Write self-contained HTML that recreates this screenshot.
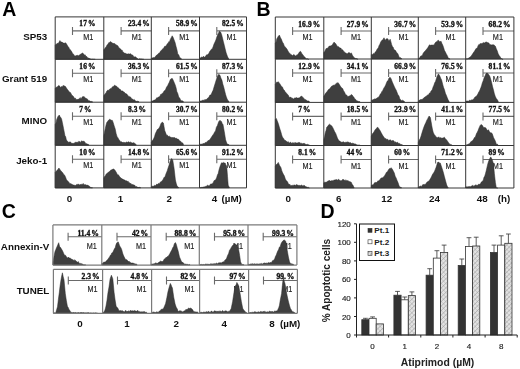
<!DOCTYPE html>
<html><head><meta charset="utf-8"><style>
html,body{margin:0;padding:0;background:#fff;}
body{width:520px;height:369px;overflow:hidden;}
svg{display:block;filter:blur(0.3px);}
.gl{stroke:#363636;stroke-width:1;}
.glc{stroke:#7a7a7a;stroke-width:1.2;}
.mk{stroke:#6a6a6a;stroke-width:1.1;fill:none;}
.pct{font-family:"Liberation Serif",serif;font-weight:bold;font-size:7.4px;letter-spacing:0.15px;fill:#111;stroke:#111;stroke-width:0.35px;}
.pctc{font-size:7.6px;letter-spacing:0px;}
.m1{font-family:"Liberation Sans",sans-serif;font-size:8.4px;fill:#222;stroke:#222;stroke-width:0.15px;}
.big{font-family:"Liberation Sans",sans-serif;font-weight:bold;font-size:19.5px;fill:#000;}
.lab{font-family:"Liberation Sans",sans-serif;font-weight:bold;font-size:9.8px;fill:#111;}
.tk{font-family:"Liberation Sans",sans-serif;font-size:8px;fill:#222;stroke:#222;stroke-width:0.15px;}
.dl{font-family:"Liberation Sans",sans-serif;font-weight:bold;font-size:10.4px;fill:#222;}
.yl{font-family:"Liberation Sans",sans-serif;font-weight:bold;font-size:10.05px;fill:#222;}
.lg{font-family:"Liberation Sans",sans-serif;font-weight:bold;font-size:8.1px;fill:#222;}
.eb{stroke:#333;stroke-width:0.8;fill:none;}
.ax{stroke:#222;stroke-width:1;fill:none;}
</style></head><body>
<svg width="520" height="369" viewBox="0 0 520 369">
<defs><pattern id="hatch" patternUnits="userSpaceOnUse" width="3.2" height="3.2" patternTransform="rotate(45)">
<rect width="3.2" height="3.2" fill="#e2e2e2"/><line x1="0" y1="0" x2="0" y2="3.2" stroke="#8a8a8a" stroke-width="0.8"/><line x1="0" y1="0" x2="3.2" y2="0" stroke="#a0a0a0" stroke-width="0.6"/></pattern></defs>
<text x="79.3" y="26.4" class="pct" text-anchor="start">17<tspan dx="0.9">%</tspan></text>
<path d="M72.5,30.9 H103.8 M72.5,26.9 V34.9" class="mk"/>
<text x="88.2" y="39.9" class="m1" text-anchor="middle" textLength="10.1" lengthAdjust="spacingAndGlyphs">M1</text>
<path d="M55.2,59.3 L55.2,44.9 L55.9,44.4 L56.6,44.1 L57.3,43.3 L58,43.6 L59,42.3 L59.9,40.6 L60.6,41.4 L61.3,42 L62,42.1 L62.7,42.6 L63.4,43.1 L64.1,43.1 L64.8,43.3 L65.5,42.7 L66.4,43.8 L67.3,45.3 L68,46.5 L68.7,47.2 L69.4,48.7 L70.1,49.7 L71,50.5 L72,52.3 L72.9,54 L73.6,54.2 L74.3,55.5 L75,56.2 L75.7,55.8 L76.5,55.6 L77.2,55 L78,56 L78.7,55.6 L79.5,55.1 L80.4,54.2 L81.3,53.9 L82.2,52.9 L82.9,53.2 L83.7,54.1 L84.4,55.2 L85.1,54.7 L86,56.5 L86.9,56.6 L87.8,58.2 L88.7,58.1 L89.7,58.6 L90.6,58.9 L91.4,59.2 L92.1,59.2 L92.9,59.1 L93.7,59.3 L94.4,59.3 L95.2,59.2 L95.2,59.3 Z" fill="#3f3f3f" stroke="#2a2a2a" stroke-width="0.5" stroke-linejoin="round"/>
<text x="127.9" y="26.4" class="pct" text-anchor="start">23.4<tspan dx="0.9">%</tspan></text>
<path d="M121.1,30.9 H151.3 M121.1,26.9 V34.9" class="mk"/>
<text x="136.8" y="39.9" class="m1" text-anchor="middle" textLength="10.1" lengthAdjust="spacingAndGlyphs">M1</text>
<path d="M103.8,59.3 L103.8,49.5 L104.6,48.9 L105.5,47.4 L106.3,46.5 L107.2,44.7 L107.9,44.5 L108.6,42.8 L109.3,42.7 L110,41.7 L110.7,41.8 L111.5,42.3 L112.2,43.3 L113,42.9 L113.7,43.6 L114.6,43.6 L115.6,44.4 L116.5,45 L117.2,45.4 L117.9,45.8 L118.6,47.3 L119.3,48.1 L120,48.5 L120.7,49.1 L121.4,50.2 L122.1,50.1 L122.8,51.7 L123.5,52.2 L124.2,53.3 L124.9,53.1 L125.8,53.5 L126.8,54 L127.7,54 L128.4,53.8 L129.2,54 L129.9,53.9 L130.7,53.7 L131.4,54.7 L132.1,54.9 L132.9,55.2 L133.6,56.5 L134.4,56.9 L135.1,56.7 L135.8,57 L136.5,57.7 L137.2,58.3 L137.9,58.7 L138.6,59.3 L139.4,58.8 L140.1,58.8 L140.8,59.1 L141.6,58.9 L142.3,59.1 L143.1,59.3 L143.8,59.2 L143.8,59.3 Z" fill="#3f3f3f" stroke="#2a2a2a" stroke-width="0.5" stroke-linejoin="round"/>
<text x="175.9" y="26.4" class="pct" text-anchor="start">58.9<tspan dx="0.9">%</tspan></text>
<path d="M168.6,30.9 H199.5 M168.6,26.9 V34.9" class="mk"/>
<text x="184.3" y="39.9" class="m1" text-anchor="middle" textLength="10.1" lengthAdjust="spacingAndGlyphs">M1</text>
<path d="M151.3,59.3 L151.3,58.3 L152.1,58 L152.9,57.8 L153.7,57.6 L154.5,57.4 L155.2,57 L156,55.8 L156.7,55.1 L157.5,54.6 L158.2,53.9 L158.9,52.9 L159.7,52.9 L160.4,51.3 L161.2,50.6 L161.9,49.7 L162.6,49.1 L163.3,48.4 L164,47.5 L164.7,46.3 L165.7,46.3 L166.6,45 L167.3,43.7 L168,43.4 L168.7,41.7 L169.4,41.9 L170.3,39.4 L171.2,37.7 L172.2,35.8 L173.2,37.5 L174.1,39.9 L175.1,42.6 L176,46.3 L176.9,49.5 L177.8,53.9 L178.8,54.9 L179.7,57.6 L180.6,57.9 L181.5,58.9 L181.5,59.3 Z" fill="#3f3f3f" stroke="#2a2a2a" stroke-width="0.5" stroke-linejoin="round"/>
<text x="221.9" y="26.4" class="pct" text-anchor="start">82.5<tspan dx="0.9">%</tspan></text>
<path d="M216.8,30.9 H246.5 M216.8,26.9 V34.9" class="mk"/>
<text x="231.5" y="39.9" class="m1" text-anchor="middle" textLength="10.1" lengthAdjust="spacingAndGlyphs">M1</text>
<path d="M199.5,59.3 L199.5,58.3 L200.2,58 L200.9,57.5 L201.7,57 L202.4,57.3 L203.1,56.6 L203.8,56.5 L204.5,57.3 L205.3,56.6 L206,55.4 L206.8,54.8 L207.5,54.7 L208.2,54.1 L208.9,53.6 L209.6,51.6 L210.3,51.1 L211.2,49.4 L212.2,48.9 L213.1,46.8 L214,44.1 L215,42.1 L215.9,39.9 L216.8,37 L217.8,34.4 L218.6,33 L219.3,31.3 L220.6,32.1 L221.6,34.5 L222.5,38 L223.4,41.7 L224.3,45.3 L225.2,49 L226.2,53 L227.5,56.6 L228.2,58.1 L229,58.9 L229,59.3 Z" fill="#3f3f3f" stroke="#2a2a2a" stroke-width="0.5" stroke-linejoin="round"/>
<text x="79.3" y="68.8" class="pct" text-anchor="start">16<tspan dx="0.9">%</tspan></text>
<path d="M72.5,73.3 H103.8 M72.5,69.3 V77.3" class="mk"/>
<text x="88.2" y="82.3" class="m1" text-anchor="middle" textLength="10.1" lengthAdjust="spacingAndGlyphs">M1</text>
<path d="M55.2,102.2 L55.2,88.2 L56.2,87.3 L57.1,87.3 L58,86 L58.9,85.5 L59.7,86.1 L60.4,87.5 L61.4,86.5 L62.3,86.9 L63,85.5 L63.8,85.7 L64.5,86 L65.5,86.5 L66.4,88 L67.3,89.3 L68.3,90.5 L69,91.4 L69.7,92.3 L70.4,92.5 L71.1,93.7 L72,95.5 L73,95.9 L73.9,97.2 L74.6,98.6 L75.3,97.9 L76,99.4 L76.7,99.5 L77.4,99.6 L78.1,99.1 L78.8,99.2 L79.5,98.5 L80.2,97.6 L80.9,98.7 L81.6,98.3 L82.3,96.8 L83.2,96.7 L84.1,96.5 L85.1,98.1 L86,98.2 L86.7,98.7 L87.4,98.9 L88.1,100.3 L88.8,100.7 L89.5,100.7 L90.3,101.3 L91,101.6 L91.8,101.4 L92.5,101.8 L92.5,102.2 Z" fill="#3f3f3f" stroke="#2a2a2a" stroke-width="0.5" stroke-linejoin="round"/>
<text x="127.9" y="68.8" class="pct" text-anchor="start">36.3<tspan dx="0.9">%</tspan></text>
<path d="M121.1,73.3 H151.3 M121.1,69.3 V77.3" class="mk"/>
<text x="136.8" y="82.3" class="m1" text-anchor="middle" textLength="10.1" lengthAdjust="spacingAndGlyphs">M1</text>
<path d="M103.8,102.2 L103.8,95.7 L104.6,94.4 L105.4,93.5 L106.2,92.4 L106.9,90.9 L107.6,90.3 L108.3,90.1 L109,90.7 L109.7,89 L110.4,88.7 L111.1,88.4 L111.8,87.7 L112.5,86.7 L113.2,87 L113.9,85.8 L114.6,85.3 L115.5,85.8 L116.5,86.3 L117.2,86.8 L117.9,87.8 L118.6,87.9 L119.3,89.3 L120,89.1 L120.7,90 L121.4,91.1 L122.1,91.1 L122.8,90.9 L123.5,92.1 L124.2,92 L124.9,93.3 L125.8,93.6 L126.8,94.1 L127.7,95.2 L128.4,96.1 L129.1,96.9 L129.8,96.4 L130.5,97 L131.2,98.2 L131.9,98.7 L132.6,99 L133.3,100.1 L134.2,99.4 L135.2,100.5 L136.1,101.5 L136.8,101.3 L137.5,101.2 L138.2,101.3 L138.9,101.8 L138.9,102.2 Z" fill="#3f3f3f" stroke="#2a2a2a" stroke-width="0.5" stroke-linejoin="round"/>
<text x="175.9" y="68.8" class="pct" text-anchor="start">61.5<tspan dx="0.9">%</tspan></text>
<path d="M168.6,73.3 H199.5 M168.6,69.3 V77.3" class="mk"/>
<text x="184.3" y="82.3" class="m1" text-anchor="middle" textLength="10.1" lengthAdjust="spacingAndGlyphs">M1</text>
<path d="M151.3,102.2 L151.3,101.3 L152.1,100.8 L152.9,101.2 L153.8,100 L154.6,100 L155.4,99.7 L156.1,98.8 L156.9,97.6 L157.6,97.9 L158.4,97.1 L159.1,96.7 L159.9,96.5 L160.6,94.5 L161.4,94.2 L162.1,93.4 L162.9,93.3 L163.6,91.8 L164.3,90.8 L165,90.5 L165.7,89.2 L166.6,87 L167.6,85.8 L168.5,83.7 L169.4,82.1 L170.3,79.5 L171.6,78.5 L172.4,78.6 L173.1,80.1 L174.1,82.3 L175,84.4 L176,87.4 L176.9,91.7 L177.8,93.6 L178.7,97 L179.7,97.9 L180.6,100.1 L181.3,100.8 L182,100.7 L182.7,100.9 L183.4,101.5 L183.4,102.2 Z" fill="#3f3f3f" stroke="#2a2a2a" stroke-width="0.5" stroke-linejoin="round"/>
<text x="221.9" y="68.8" class="pct" text-anchor="start">87.3<tspan dx="0.9">%</tspan></text>
<path d="M216.8,73.3 H246.5 M216.8,69.3 V77.3" class="mk"/>
<text x="231.5" y="82.3" class="m1" text-anchor="middle" textLength="10.1" lengthAdjust="spacingAndGlyphs">M1</text>
<path d="M199.5,102.2 L199.5,101.3 L200.2,101 L201,101 L201.7,100.8 L202.5,100.3 L203.2,100.1 L204,100.7 L204.7,99.6 L205.5,99.7 L206.2,99.6 L207,98.7 L207.7,98.3 L208.5,97.4 L209.2,96.6 L209.9,95.1 L210.6,95.1 L211.3,94.2 L212.2,92.1 L213.2,90.1 L214.1,86.8 L215,83.9 L215.9,81 L216.7,78.4 L217.4,76.5 L218.7,74.3 L220,75.3 L220.9,78.1 L221.9,80.1 L222.8,84.1 L223.8,87.3 L224.7,90.9 L225.6,94.6 L226.3,96.7 L227.1,98.9 L228.1,100.7 L229,101.5 L229,102.2 Z" fill="#3f3f3f" stroke="#2a2a2a" stroke-width="0.5" stroke-linejoin="round"/>
<text x="79.3" y="111.7" class="pct" text-anchor="start">7<tspan dx="0.9">%</tspan></text>
<path d="M72.5,116.2 H103.8 M72.5,112.2 V120.2" class="mk"/>
<text x="88.2" y="125.2" class="m1" text-anchor="middle" textLength="10.1" lengthAdjust="spacingAndGlyphs">M1</text>
<path d="M55.2,145.3 L55.2,124.6 L56,122.9 L56.7,119.4 L58,116.4 L59.3,115 L60.1,116.8 L60.8,117.6 L61.6,119.1 L62.3,122.2 L63.6,128.7 L64.9,135.4 L65.7,136.8 L66.4,140.1 L67.3,141.1 L68.3,142.2 L69,142.3 L69.7,141.9 L70.4,142 L71.1,142.6 L72,143.6 L73,143.2 L73.9,143.5 L74.6,142.7 L75.3,142 L76,143.1 L76.7,142.1 L77.4,142.2 L78.1,142.4 L78.8,141.2 L79.5,141.5 L80.2,142.4 L80.9,141.5 L81.6,140.9 L82.3,141.3 L83.2,141.3 L84.1,141.2 L85.1,142.5 L86,143.7 L86.7,143.7 L87.4,144.1 L88.1,144.2 L88.8,144.7 L88.8,145.3 Z" fill="#3f3f3f" stroke="#2a2a2a" stroke-width="0.5" stroke-linejoin="round"/>
<text x="127.9" y="111.7" class="pct" text-anchor="start">8.3<tspan dx="0.9">%</tspan></text>
<path d="M121.1,116.2 H151.3 M121.1,112.2 V120.2" class="mk"/>
<text x="136.8" y="125.2" class="m1" text-anchor="middle" textLength="10.1" lengthAdjust="spacingAndGlyphs">M1</text>
<path d="M103.8,145.3 L103.8,135.8 L104.5,132.2 L105.3,128.6 L106,125.2 L106.8,122.4 L107.8,121.2 L108.7,120 L109.6,119.3 L110.5,119.7 L111.5,120.3 L112.4,120.4 L113.3,122.9 L114.2,126 L115.2,128.9 L116.1,133.4 L117,136.4 L118,137.9 L118.7,139.3 L119.5,140.2 L120.2,141.3 L120.9,142 L121.7,141.7 L122.4,142.6 L123.2,142.1 L123.9,143 L124.7,142.2 L125.4,143 L126.2,141.9 L126.9,142.2 L127.7,142.3 L128.4,141.7 L129.1,142.1 L129.8,142.5 L130.5,142 L131.2,142.6 L131.9,142.8 L132.6,143.1 L133.3,142.8 L134.2,142.8 L135.2,143.9 L136.1,144.4 L136.1,145.3 Z" fill="#3f3f3f" stroke="#2a2a2a" stroke-width="0.5" stroke-linejoin="round"/>
<text x="175.9" y="111.7" class="pct" text-anchor="start">30.7<tspan dx="0.9">%</tspan></text>
<path d="M168.6,116.2 H199.5 M168.6,112.2 V120.2" class="mk"/>
<text x="184.3" y="125.2" class="m1" text-anchor="middle" textLength="10.1" lengthAdjust="spacingAndGlyphs">M1</text>
<path d="M151.3,145.3 L151.3,142.3 L152,141.2 L152.8,140.1 L153.5,139.1 L154.5,136.8 L155.4,133.5 L156.4,131.6 L157.3,129.6 L158.2,129.1 L159.1,128 L160.1,126 L161,123.5 L162.3,122.1 L163.4,123 L164.7,130.4 L165.7,133.1 L166.6,135.3 L167.3,135.2 L168,135.7 L168.7,136.5 L169.4,136.2 L170.3,137 L171.3,137.4 L172.2,137.5 L173.2,137.6 L174.1,137.8 L174.8,137.5 L175.5,138.6 L176.2,137.9 L176.9,139.1 L177.8,139.1 L178.7,139.4 L179.7,141.1 L180.6,141.2 L181.3,142.4 L182,142.6 L182.7,143 L183.4,144.2 L183.4,145.3 Z" fill="#3f3f3f" stroke="#2a2a2a" stroke-width="0.5" stroke-linejoin="round"/>
<text x="221.9" y="111.7" class="pct" text-anchor="start">80.2<tspan dx="0.9">%</tspan></text>
<path d="M216.8,116.2 H246.5 M216.8,112.2 V120.2" class="mk"/>
<text x="231.5" y="125.2" class="m1" text-anchor="middle" textLength="10.1" lengthAdjust="spacingAndGlyphs">M1</text>
<path d="M199.5,145.3 L199.5,144.7 L200.2,144.4 L200.9,144 L201.7,144.2 L202.4,144.3 L203.1,143.2 L203.8,143.8 L204.5,143.3 L205.3,142.5 L206,142.7 L206.8,141.8 L207.5,141.2 L208.2,140.5 L208.9,140.5 L209.6,139.8 L210.3,138.9 L211.2,137.5 L212.2,136 L213.1,134.7 L213.9,133.5 L214.7,131.9 L215.5,130.9 L216.4,127.2 L217.4,125.5 L218.7,121.7 L220,120.3 L220.8,121.2 L221.5,121.6 L222.2,123.5 L223,124.6 L224.3,131.7 L225.6,139.8 L226.3,141.8 L227.1,144.1 L228.1,144.3 L229,144.7 L229,145.3 Z" fill="#3f3f3f" stroke="#2a2a2a" stroke-width="0.5" stroke-linejoin="round"/>
<text x="79.3" y="154.8" class="pct" text-anchor="start">10<tspan dx="0.9">%</tspan></text>
<path d="M72.5,159.3 H103.8 M72.5,155.3 V163.3" class="mk"/>
<text x="88.2" y="168.3" class="m1" text-anchor="middle" textLength="10.1" lengthAdjust="spacingAndGlyphs">M1</text>
<path d="M55.2,187.9 L55.2,172.4 L56.2,171.3 L57.1,170.2 L58,169.5 L58.9,168 L59.9,169.4 L60.8,170.8 L61.8,171.7 L62.7,172.7 L63.6,174.2 L64.5,175.1 L65.5,177.1 L66.4,179.4 L67.3,180.8 L68.3,181.5 L69,182.4 L69.7,183.4 L70.4,183.6 L71.1,183.9 L72,184.2 L73,185.1 L73.9,185 L74.6,185.3 L75.3,185.5 L76,185 L76.7,184.4 L77.4,184.4 L78.1,184.2 L78.8,184.3 L79.5,185.1 L80.2,184.3 L80.9,184.8 L81.6,184.3 L82.3,184.6 L83.2,183.4 L84.1,184.7 L84.8,184.8 L85.5,184.6 L86.2,185.3 L86.9,184.9 L87.6,185.1 L88.3,185.8 L89,185.7 L89.7,186.6 L90.6,187.4 L91.6,187.7 L92.5,187.8 L92.5,187.9 Z" fill="#3f3f3f" stroke="#2a2a2a" stroke-width="0.5" stroke-linejoin="round"/>
<text x="127.9" y="154.8" class="pct" text-anchor="start">14.8<tspan dx="0.9">%</tspan></text>
<path d="M121.1,159.3 H151.3 M121.1,155.3 V163.3" class="mk"/>
<text x="136.8" y="168.3" class="m1" text-anchor="middle" textLength="10.1" lengthAdjust="spacingAndGlyphs">M1</text>
<path d="M103.8,187.9 L103.8,177.9 L104.6,176.4 L105.4,175.7 L106.2,174.1 L106.9,173.4 L107.6,173.1 L108.3,172.2 L109,172 L109.7,171.2 L110.4,170.5 L111.1,169.7 L111.8,170.1 L112.8,169.1 L113.7,168.9 L115,170.3 L115.8,171.6 L116.5,172.7 L117.4,174.7 L118.4,174.8 L119.3,176.2 L120.3,177.5 L121.2,178.1 L122.1,179 L123,179.1 L123.9,179.9 L124.8,179.9 L125.8,181 L126.7,180.8 L127.4,181.4 L128.1,181.2 L128.8,182.4 L129.5,182.7 L130.2,183.7 L130.9,183.3 L131.6,184.5 L132.3,184.6 L133,184.6 L133.7,184.9 L134.4,185 L135.1,185.8 L135.8,186.7 L136.5,186.5 L137.2,187.1 L137.9,187.2 L138.8,187.6 L139.8,187.3 L140.7,187.8 L140.7,187.9 Z" fill="#3f3f3f" stroke="#2a2a2a" stroke-width="0.5" stroke-linejoin="round"/>
<text x="175.9" y="154.8" class="pct" text-anchor="start">65.6<tspan dx="0.9">%</tspan></text>
<path d="M168.6,159.3 H199.5 M168.6,155.3 V163.3" class="mk"/>
<text x="184.3" y="168.3" class="m1" text-anchor="middle" textLength="10.1" lengthAdjust="spacingAndGlyphs">M1</text>
<path d="M151.3,187.9 L151.3,186.7 L152.1,186.6 L152.9,185.8 L153.8,186.6 L154.6,185.2 L155.4,185.8 L156.1,184.8 L156.9,184.1 L157.6,184.5 L158.4,183.4 L159.1,183.7 L159.8,182.9 L160.5,181.9 L161.2,181.6 L161.9,181.2 L162.6,180.1 L163.3,179.2 L164,177.3 L164.7,177.5 L165.5,175.2 L166.4,172.7 L167.2,170.9 L168.1,168 L169,165.3 L170.3,160.9 L171.6,158.5 L172.8,160.3 L174.1,168.4 L175.4,180 L176.2,183.3 L176.9,185.6 L177.8,186.8 L178.7,187.5 L178.7,187.9 Z" fill="#3f3f3f" stroke="#2a2a2a" stroke-width="0.5" stroke-linejoin="round"/>
<text x="221.9" y="154.8" class="pct" text-anchor="start">91.2<tspan dx="0.9">%</tspan></text>
<path d="M216.8,159.3 H246.5 M216.8,155.3 V163.3" class="mk"/>
<text x="231.5" y="168.3" class="m1" text-anchor="middle" textLength="10.1" lengthAdjust="spacingAndGlyphs">M1</text>
<path d="M199.5,187.9 L199.5,187.5 L200.2,187.7 L201,187.5 L201.7,187.3 L202.5,187.3 L203.2,187 L204,187 L204.7,186.8 L205.5,186.4 L206.3,186.3 L207.1,185.4 L207.8,185.2 L208.6,185.8 L209.4,186 L210.1,184.4 L210.9,184 L211.6,183.9 L212.4,183.4 L213.1,183 L214,180.7 L215,180.2 L215.9,179.3 L216.7,177.4 L217.4,175.1 L218.2,173.5 L219.1,169.5 L220,166.6 L220.8,164.4 L221.5,162.8 L222.4,163.1 L223.4,162.4 L224.3,162.9 L225.2,163.1 L225.9,165 L226.7,166.1 L227.5,176.3 L228.2,185.2 L229.4,187.5 L229.4,187.9 Z" fill="#3f3f3f" stroke="#2a2a2a" stroke-width="0.5" stroke-linejoin="round"/>
<line x1="55.2" y1="16.9" x2="246.5" y2="16.9" class="gl"/>
<line x1="55.2" y1="59.3" x2="246.5" y2="59.3" class="gl"/>
<line x1="55.2" y1="102.2" x2="246.5" y2="102.2" class="gl"/>
<line x1="55.2" y1="145.3" x2="246.5" y2="145.3" class="gl"/>
<line x1="55.2" y1="187.9" x2="246.5" y2="187.9" class="gl"/>
<line x1="55.2" y1="16.9" x2="55.2" y2="187.9" class="gl"/>
<line x1="103.8" y1="16.9" x2="103.8" y2="187.9" class="gl"/>
<line x1="151.3" y1="16.9" x2="151.3" y2="187.9" class="gl"/>
<line x1="199.5" y1="16.9" x2="199.5" y2="187.9" class="gl"/>
<line x1="246.5" y1="16.9" x2="246.5" y2="187.9" class="gl"/>
<text x="298.2" y="26.5" class="pct" text-anchor="start">16.9<tspan dx="0.9">%</tspan></text>
<path d="M292.6,31 H323.8 M292.6,27 V35" class="mk"/>
<text x="307.5" y="40" class="m1" text-anchor="middle" textLength="10.1" lengthAdjust="spacingAndGlyphs">M1</text>
<path d="M275.3,59 L275.3,43.1 L276.1,41.9 L276.8,38.8 L277.6,37.4 L278.3,36.2 L279.4,35.1 L280.5,37.8 L281.4,39.2 L282.4,42.1 L283.4,43.4 L284.3,45.9 L285.2,46.9 L286.1,48 L287.1,49.3 L288,51.1 L288.9,52.4 L289.9,53.4 L290.8,54.6 L291.8,54.9 L292.7,55.8 L293.6,54.5 L294.5,55.1 L295.4,55.9 L296.4,55.2 L297.3,54.9 L298.2,53.9 L299.2,52.3 L300.5,51.3 L301.2,52.3 L302,54 L302.9,54.7 L303.8,56.3 L304.8,57 L305.7,58.3 L306.4,58.9 L307.1,58.8 L307.8,59 L308.5,59.5 L308.5,59 Z" fill="#3f3f3f" stroke="#2a2a2a" stroke-width="0.5" stroke-linejoin="round"/>
<text x="346.7" y="26.5" class="pct" text-anchor="start">27.9<tspan dx="0.9">%</tspan></text>
<path d="M341.1,31 H371.3 M341.1,27 V35" class="mk"/>
<text x="356" y="40" class="m1" text-anchor="middle" textLength="10.1" lengthAdjust="spacingAndGlyphs">M1</text>
<path d="M323.8,59 L323.8,52.4 L324.6,51.7 L325.4,50 L326.2,48.4 L326.9,48.6 L327.6,47.9 L328.3,47.3 L329,46.3 L329.7,46.1 L330.4,45.9 L331.1,45.9 L331.8,45 L332.6,44.4 L333.4,42.9 L334.2,42.1 L334.9,43.3 L335.6,43.5 L336.5,45 L337.4,46.4 L338.3,46.6 L339.3,47.5 L340.2,48.1 L340.9,48 L341.6,49.7 L342.3,49.6 L343,50.3 L343.7,51.6 L344.4,51.8 L345.1,52.9 L345.8,52.9 L346.6,53.4 L347.3,54.1 L348.1,52.8 L349.5,52.7 L350.4,53.4 L351.4,52.9 L352.4,55.3 L353.3,56.4 L354.2,57.7 L355.1,58.3 L355.8,58.5 L356.5,58.6 L357.2,59 L357.9,59.2 L357.9,59 Z" fill="#3f3f3f" stroke="#2a2a2a" stroke-width="0.5" stroke-linejoin="round"/>
<text x="394.2" y="26.5" class="pct" text-anchor="start">36.7<tspan dx="0.9">%</tspan></text>
<path d="M388.6,31 H418.3 M388.6,27 V35" class="mk"/>
<text x="403.5" y="40" class="m1" text-anchor="middle" textLength="10.1" lengthAdjust="spacingAndGlyphs">M1</text>
<path d="M371.3,59 L371.3,54.5 L372.1,54.9 L372.8,53.9 L373.6,53.4 L374.3,54 L375.2,52 L376,51.6 L376.9,49.6 L377.7,48.5 L378.4,47.5 L379.2,45.2 L379.9,44.2 L380.6,42.2 L381.4,41 L382.3,40 L383.2,39.2 L384,37.8 L385.3,40.6 L386.1,38.9 L387,38.7 L387.8,38.8 L388.9,40.9 L390.2,39.2 L390.9,41.7 L391.6,44.4 L392.4,46.5 L393.2,47.3 L394,49.8 L394.8,50 L395.6,50.6 L396.3,51.9 L397.1,53 L397.9,53.8 L398.9,56.4 L399.8,57.7 L400.8,57.8 L401.8,58.8 L401.8,59 Z" fill="#3f3f3f" stroke="#2a2a2a" stroke-width="0.5" stroke-linejoin="round"/>
<text x="441.2" y="26.5" class="pct" text-anchor="start">53.9<tspan dx="0.9">%</tspan></text>
<path d="M435.6,31 H465.7 M435.6,27 V35" class="mk"/>
<text x="450.5" y="40" class="m1" text-anchor="middle" textLength="10.1" lengthAdjust="spacingAndGlyphs">M1</text>
<path d="M418.3,59 L418.3,59 L419,58.1 L419.7,57.9 L420.4,56.3 L421.1,56 L421.8,55.7 L422.5,54.9 L423.2,53.2 L423.9,52.3 L424.6,51.4 L425.3,50.7 L426,50 L426.7,49 L427.6,48.1 L428.6,46.2 L429.5,44.8 L430.4,45.3 L431.4,45.1 L432.3,45 L433.2,45.3 L434.2,44.4 L435.1,43.1 L436.1,41.7 L437,42 L437.7,40.5 L438.4,40.2 L439.8,41.7 L441.1,41.3 L441.9,43.4 L442.6,44.8 L443.5,47.2 L444.4,50.3 L445.4,52.1 L446.3,53.9 L447.2,55.4 L448.2,57.7 L449.1,58.6 L450,59.2 L450,59 Z" fill="#3f3f3f" stroke="#2a2a2a" stroke-width="0.5" stroke-linejoin="round"/>
<text x="488.6" y="26.5" class="pct" text-anchor="start">68.2<tspan dx="0.9">%</tspan></text>
<path d="M483,31 H513.9 M483,27 V35" class="mk"/>
<text x="497.9" y="40" class="m1" text-anchor="middle" textLength="10.1" lengthAdjust="spacingAndGlyphs">M1</text>
<path d="M465.7,59 L465.7,59 L466.6,58.9 L467.4,58.9 L468.3,58.5 L469,57.6 L469.7,57.6 L470.4,56.7 L471.1,56.3 L472,54.8 L473,53.3 L473.9,51.9 L474.6,51.1 L475.3,49.8 L476,48.5 L476.7,48.5 L477.4,47.4 L478.1,45.7 L478.8,44.5 L479.5,44.7 L480.2,43.4 L480.9,43.8 L481.6,43.5 L482.3,43.4 L483.2,42.6 L484.2,43 L485.1,42.6 L485.8,42.1 L486.5,42 L487.2,42.6 L487.9,42.6 L488.8,43 L489.8,44.5 L490.8,44.8 L491.7,44.9 L492.6,44.8 L493.5,44.8 L494.4,45.3 L495.4,46.2 L496.3,48.8 L497.2,50.7 L498.1,53.5 L499.1,55.4 L500,56.6 L501,58.4 L501.9,58.7 L502.8,59.5 L502.8,59 Z" fill="#3f3f3f" stroke="#2a2a2a" stroke-width="0.5" stroke-linejoin="round"/>
<text x="298.2" y="68.5" class="pct" text-anchor="start">12.9<tspan dx="0.9">%</tspan></text>
<path d="M292.6,73 H323.8 M292.6,69 V77" class="mk"/>
<text x="307.5" y="82" class="m1" text-anchor="middle" textLength="10.1" lengthAdjust="spacingAndGlyphs">M1</text>
<path d="M275.3,102.4 L275.3,84.2 L276.1,83.2 L276.8,81.9 L277.6,82.3 L278.3,81.7 L279.6,83.4 L280.6,85 L281.5,86.6 L282.4,86.9 L283.3,89.3 L284.2,90.1 L285.2,92.1 L286.2,92.7 L287.1,94.2 L288,94.7 L289,96.7 L289.9,97.6 L290.8,97.1 L291.8,98.3 L292.7,98.3 L293.6,98.9 L294.5,98 L295.4,98 L296.3,97.6 L297.3,98.1 L298.2,97.9 L299.2,98.1 L300.1,97.1 L301.1,96.3 L302,96.3 L303.3,97.9 L304.1,98.5 L304.8,99.4 L305.7,99.7 L306.6,100.2 L307.3,101.1 L308,100.9 L308.7,101 L309.4,101.5 L309.4,102.4 Z" fill="#3f3f3f" stroke="#2a2a2a" stroke-width="0.5" stroke-linejoin="round"/>
<text x="346.7" y="68.5" class="pct" text-anchor="start">34.1<tspan dx="0.9">%</tspan></text>
<path d="M341.1,73 H371.3 M341.1,69 V77" class="mk"/>
<text x="356" y="82" class="m1" text-anchor="middle" textLength="10.1" lengthAdjust="spacingAndGlyphs">M1</text>
<path d="M323.8,102.4 L323.8,96.3 L324.6,95.1 L325.4,93.6 L326.2,92.4 L326.9,92.1 L327.6,90.8 L328.3,89.8 L329,89.1 L329.7,88.9 L330.4,87.7 L331.1,86.9 L331.8,86 L332.8,85.8 L333.7,84.9 L335,85.2 L335.8,83.7 L336.5,83.2 L337.2,83.2 L338,82.5 L338.9,83.8 L339.8,85.3 L340.8,86.8 L341.7,87.9 L342.7,88.6 L343.6,90.9 L344.3,91.8 L345.1,93.4 L345.8,95 L346.6,94.9 L347.3,96.2 L348.1,96.6 L349.5,95.9 L350.4,95.4 L351.4,94.6 L352.2,95 L352.9,96.2 L353.8,97.1 L354.7,98.7 L355.5,99.2 L356.2,100.5 L357,100.8 L357.9,101.2 L358.9,101.5 L359.8,101.5 L359.8,102.4 Z" fill="#3f3f3f" stroke="#2a2a2a" stroke-width="0.5" stroke-linejoin="round"/>
<text x="394.2" y="68.5" class="pct" text-anchor="start">66.9<tspan dx="0.9">%</tspan></text>
<path d="M388.6,73 H418.3 M388.6,69 V77" class="mk"/>
<text x="403.5" y="82" class="m1" text-anchor="middle" textLength="10.1" lengthAdjust="spacingAndGlyphs">M1</text>
<path d="M371.3,102.4 L371.3,100.4 L372.2,100.2 L373,99.6 L373.9,99.5 L374.7,98.7 L375.5,99.1 L376.4,98.5 L377.2,97.8 L378,97.7 L378.8,96.6 L379.5,96 L380.3,93.9 L381,93.8 L381.8,91.5 L382.5,91.2 L383.3,89.2 L384.1,87.7 L384.9,86.5 L385.7,84.9 L386.5,82.8 L387.3,81.1 L388.1,80.5 L388.8,78.4 L390,77.2 L391.1,78.8 L392.4,82.2 L393.4,84.5 L394.3,86.6 L395.2,88.4 L396.1,90.1 L397.1,92.5 L398,95 L398.9,95.7 L399.8,98.8 L400.8,99.9 L401.7,100.8 L402.4,100.2 L403.1,100.6 L403.8,101 L404.5,101.5 L404.5,102.4 Z" fill="#3f3f3f" stroke="#2a2a2a" stroke-width="0.5" stroke-linejoin="round"/>
<text x="441.2" y="68.5" class="pct" text-anchor="start">76.5<tspan dx="0.9">%</tspan></text>
<path d="M435.6,73 H465.7 M435.6,69 V77" class="mk"/>
<text x="450.5" y="82" class="m1" text-anchor="middle" textLength="10.1" lengthAdjust="spacingAndGlyphs">M1</text>
<path d="M418.3,102.4 L418.3,101.2 L419.1,100.2 L419.9,100.1 L420.7,99.5 L421.4,99.5 L422.2,99.6 L423,98.5 L423.7,98.2 L424.5,97.3 L425.2,96.8 L426,96.4 L426.7,95.8 L427.6,95 L428.6,94.8 L429.5,93 L430.2,92.9 L430.9,91.2 L431.6,90.6 L432.3,89.5 L433.1,87 L433.9,85.2 L434.7,82.8 L435.5,81.4 L436.2,79.2 L437,76.7 L437.7,75.2 L438.4,73.8 L439.8,75.9 L440.7,78.2 L441.6,79.9 L442.6,84 L443.5,87.3 L444.4,89.6 L445.4,93.3 L446.3,95.2 L447.2,97.6 L448.2,100 L449.1,101.2 L449.1,102.4 Z" fill="#3f3f3f" stroke="#2a2a2a" stroke-width="0.5" stroke-linejoin="round"/>
<text x="488.6" y="68.5" class="pct" text-anchor="start">81.1<tspan dx="0.9">%</tspan></text>
<path d="M483,73 H513.9 M483,69 V77" class="mk"/>
<text x="497.9" y="82" class="m1" text-anchor="middle" textLength="10.1" lengthAdjust="spacingAndGlyphs">M1</text>
<path d="M465.7,102.4 L465.7,101.5 L466.4,101.1 L467.2,101.1 L467.9,100.9 L468.7,101.3 L469.4,100.2 L470.2,100.3 L470.9,100.5 L471.7,99.8 L472.4,99.9 L473.2,99.3 L473.9,99 L474.6,97.4 L475.3,96.9 L476,96.6 L476.7,95.7 L477.4,94.8 L478.1,93.4 L478.8,92 L479.5,91 L480.2,89.3 L480.9,87.6 L481.6,85.5 L482.3,82.9 L483.2,80.7 L484.2,77.6 L485.1,75.8 L486,73.6 L486.9,73.1 L487.9,73.4 L488.8,74.8 L489.8,76.3 L491.1,80.5 L491.8,83.2 L492.6,86.8 L493.5,90 L494.4,93.8 L495.3,96.4 L496.3,98.6 L497.2,99.6 L498.2,101.2 L498.2,102.4 Z" fill="#3f3f3f" stroke="#2a2a2a" stroke-width="0.5" stroke-linejoin="round"/>
<text x="298.2" y="111.9" class="pct" text-anchor="start">7<tspan dx="0.9">%</tspan></text>
<path d="M292.6,116.4 H323.8 M292.6,112.4 V120.4" class="mk"/>
<text x="307.5" y="125.4" class="m1" text-anchor="middle" textLength="10.1" lengthAdjust="spacingAndGlyphs">M1</text>
<path d="M275.3,145.5 L275.3,119.2 L276.4,118.5 L277.2,120.7 L278.3,123.5 L279.6,128.1 L280.9,132 L281.7,134.9 L282.4,137.1 L283.4,138.2 L284.3,140 L285,140.2 L285.8,140.7 L286.5,141.2 L287.4,142.2 L288.2,141.5 L289.1,142.9 L289.9,142.7 L290.6,142.1 L291.4,143.3 L292.1,143.2 L292.9,142.4 L293.6,143.1 L294.3,143.5 L295,142.2 L295.7,143 L296.4,142.9 L297.3,143 L298.3,142.5 L299.2,142.7 L299.9,142.4 L300.6,143.4 L301.3,143.2 L302,143.6 L302.7,143.7 L303.4,143.5 L304.1,143.1 L304.8,144 L305.7,144.2 L306.7,144.6 L307.6,144.3 L308.5,144.7 L309.4,144.9 L309.4,145.5 Z" fill="#3f3f3f" stroke="#2a2a2a" stroke-width="0.5" stroke-linejoin="round"/>
<text x="346.7" y="111.9" class="pct" text-anchor="start">18.5<tspan dx="0.9">%</tspan></text>
<path d="M341.1,116.4 H371.3 M341.1,112.4 V120.4" class="mk"/>
<text x="356" y="125.4" class="m1" text-anchor="middle" textLength="10.1" lengthAdjust="spacingAndGlyphs">M1</text>
<path d="M323.8,145.5 L323.8,139.7 L324.6,136.6 L325.3,132.7 L326.1,130.2 L326.8,127.1 L327.8,126.3 L328.7,124.8 L329.6,124.2 L330.5,125 L331.8,125.9 L333.1,128.2 L333.9,130 L334.6,131.6 L335.6,133.2 L336.5,135.4 L337.4,138.1 L338.4,139.8 L339.1,140.9 L339.9,141.1 L340.6,141.8 L341.4,142.2 L342.2,142.1 L343,142.2 L343.7,141.7 L344.4,142.5 L345.1,142.8 L345.8,141.9 L346.5,142.3 L347.2,142.2 L347.9,141.7 L348.6,142.3 L349.3,142.6 L350,143.1 L350.7,142.6 L351.4,143.5 L352.3,143.2 L353.3,143.3 L354.2,144.1 L354.9,143.7 L355.6,143.9 L356.3,144.6 L357,144.9 L357.9,144.9 L358.9,145 L359.8,144.9 L359.8,145.5 Z" fill="#3f3f3f" stroke="#2a2a2a" stroke-width="0.5" stroke-linejoin="round"/>
<text x="394.2" y="111.9" class="pct" text-anchor="start">23.9<tspan dx="0.9">%</tspan></text>
<path d="M388.6,116.4 H418.3 M388.6,112.4 V120.4" class="mk"/>
<text x="403.5" y="125.4" class="m1" text-anchor="middle" textLength="10.1" lengthAdjust="spacingAndGlyphs">M1</text>
<path d="M371.3,145.5 L371.3,136 L372.1,134.5 L372.8,133.3 L373.8,132.2 L374.7,130.4 L375.6,129.2 L376.5,128.3 L377.2,127.4 L378,127.4 L379.3,129.4 L380.2,130.8 L381.2,132.7 L382.2,134.6 L383.1,136.1 L384,137.3 L385,138.4 L385.9,138.7 L386.8,139.4 L387.8,139.3 L388.7,140.4 L389.6,140.1 L390.5,139.8 L391.4,141.1 L392.3,140.6 L393.3,140.6 L394.2,141.3 L394.9,142.4 L395.6,141.8 L396.3,142.8 L397,142.5 L397.7,142.2 L398.4,143.7 L399.1,143.1 L399.8,144.1 L400.5,144.2 L401.2,144.4 L401.9,144.6 L402.6,144.9 L402.6,145.5 Z" fill="#3f3f3f" stroke="#2a2a2a" stroke-width="0.5" stroke-linejoin="round"/>
<text x="441.2" y="111.9" class="pct" text-anchor="start">41.1<tspan dx="0.9">%</tspan></text>
<path d="M435.6,116.4 H465.7 M435.6,112.4 V120.4" class="mk"/>
<text x="450.5" y="125.4" class="m1" text-anchor="middle" textLength="10.1" lengthAdjust="spacingAndGlyphs">M1</text>
<path d="M418.3,145.5 L418.3,142.5 L419.2,140.2 L420.2,138.6 L421.1,136 L422,132.8 L422.9,129.9 L423.9,127.1 L424.9,124.6 L425.8,122.7 L426.7,120.4 L427.6,118.9 L428.4,117.2 L429.1,116 L430.4,117.6 L431.7,125.3 L432.4,129.1 L433.2,132.3 L434.2,134.4 L435.1,135.4 L436.1,137.1 L437,137.4 L437.9,137.8 L438.8,136.8 L439.8,138.3 L440.7,137.6 L441.7,138.2 L442.6,138.1 L443.5,137.8 L444.4,137.2 L445.4,139 L446.3,139.5 L447.2,140.7 L448.2,142.2 L449.1,143.5 L450,144.4 L450.9,144.4 L451.9,144.9 L451.9,145.5 Z" fill="#3f3f3f" stroke="#2a2a2a" stroke-width="0.5" stroke-linejoin="round"/>
<text x="488.6" y="111.9" class="pct" text-anchor="start">77.5<tspan dx="0.9">%</tspan></text>
<path d="M483,116.4 H513.9 M483,112.4 V120.4" class="mk"/>
<text x="497.9" y="125.4" class="m1" text-anchor="middle" textLength="10.1" lengthAdjust="spacingAndGlyphs">M1</text>
<path d="M465.7,145.5 L465.7,144.9 L466.4,144.9 L467.1,144.5 L467.8,144.5 L468.5,144 L469.2,144.3 L470,142.7 L470.7,142.1 L471.5,141.2 L472.2,141 L473,140.1 L473.7,139.1 L474.4,137.6 L475.1,137.5 L475.8,135.6 L476.5,133.5 L477.3,132.2 L478,130.7 L478.8,128.5 L479.5,126.9 L480.2,125.4 L481,124.5 L482.3,125.3 L483.6,127.5 L484.3,127.5 L485.1,127.5 L485.8,127.9 L486.6,129.3 L487.6,130.6 L488.5,129.8 L489.4,131.6 L490.3,132.8 L491.2,132.8 L492.2,133.6 L493.5,137.4 L494.8,139.9 L495.6,141.7 L496.3,144.2 L497.2,144.1 L498.2,144.9 L498.2,145.5 Z" fill="#3f3f3f" stroke="#2a2a2a" stroke-width="0.5" stroke-linejoin="round"/>
<text x="298.2" y="155" class="pct" text-anchor="start">8.1<tspan dx="0.9">%</tspan></text>
<path d="M292.6,159.5 H323.8 M292.6,155.5 V163.5" class="mk"/>
<text x="307.5" y="168.5" class="m1" text-anchor="middle" textLength="10.1" lengthAdjust="spacingAndGlyphs">M1</text>
<path d="M275.3,188 L275.3,166 L276.1,164.7 L276.8,164.3 L277.6,163.6 L278.3,162.4 L279.6,165.5 L280.9,167.5 L281.7,170.4 L282.4,172.3 L283.4,174.3 L284.3,175.8 L285.2,178.5 L286.1,180.5 L286.9,181 L287.6,182 L288.4,183.7 L289.2,184.5 L290,184.4 L290.8,185.7 L291.5,185.6 L292.2,185.3 L292.9,185.4 L293.6,185.2 L294.3,185 L295,184.9 L295.7,185.4 L296.4,184.6 L297.3,184.9 L298.3,185.3 L299.2,185.8 L299.9,185 L300.6,185.7 L301.3,185.1 L302,185.2 L302.8,185.9 L303.6,185.4 L304.4,185.5 L305.1,185.9 L305.9,186.7 L306.6,186.9 L307.3,187.3 L308,187.4 L308.7,187.4 L309.4,188 L309.4,188 Z" fill="#3f3f3f" stroke="#2a2a2a" stroke-width="0.5" stroke-linejoin="round"/>
<text x="346.7" y="155" class="pct" text-anchor="start">44<tspan dx="0.9">%</tspan></text>
<path d="M341.1,159.5 H371.3 M341.1,155.5 V163.5" class="mk"/>
<text x="356" y="168.5" class="m1" text-anchor="middle" textLength="10.1" lengthAdjust="spacingAndGlyphs">M1</text>
<path d="M323.8,188 L323.8,182.8 L324.6,182.2 L325.4,182.3 L326.2,182.3 L326.9,181.8 L327.6,181.3 L328.3,180.9 L329,180.6 L329.7,180.6 L330.4,181.1 L331.1,181.1 L331.8,180.5 L332.6,180.7 L333.4,180.4 L334.2,179.9 L334.9,180.1 L335.6,179.8 L336.5,179.6 L337.4,180.2 L338.4,179.2 L339.3,179.8 L340.2,180.7 L341.2,180.8 L342.1,180.3 L343,179.1 L344.3,180.5 L345.1,179.7 L345.8,181 L346.6,180.3 L347.3,180.8 L348.1,180.5 L349,181.6 L349.9,181.7 L350.7,181.9 L351.4,182.4 L352.2,184.5 L352.9,185 L354.2,188 L354.2,188 Z" fill="#3f3f3f" stroke="#2a2a2a" stroke-width="0.5" stroke-linejoin="round"/>
<text x="394.2" y="155" class="pct" text-anchor="start">60<tspan dx="0.9">%</tspan></text>
<path d="M388.6,159.5 H418.3 M388.6,155.5 V163.5" class="mk"/>
<text x="403.5" y="168.5" class="m1" text-anchor="middle" textLength="10.1" lengthAdjust="spacingAndGlyphs">M1</text>
<path d="M371.3,188 L371.3,185.6 L372.1,185.3 L372.9,184.6 L373.7,184.4 L374.4,182.8 L375.1,182.8 L375.8,182.3 L376.5,182.5 L377.2,181.9 L377.9,180.8 L378.6,181.1 L379.3,180.2 L380,179.4 L380.7,178.4 L381.4,177.9 L382.1,177.9 L383,177.5 L384,176.6 L384.9,175.2 L385.7,173.8 L386.5,172.2 L387.3,172.1 L388.2,170.2 L389.2,168.7 L390.2,168.6 L391.1,167.7 L392.4,169.3 L393.4,171.2 L394.3,173 L395.2,176.3 L396.1,177.9 L397.1,180.5 L398,182.6 L398.9,185.3 L399.8,187.2 L400.8,187.1 L401.7,188 L401.7,188 Z" fill="#3f3f3f" stroke="#2a2a2a" stroke-width="0.5" stroke-linejoin="round"/>
<text x="441.2" y="155" class="pct" text-anchor="start">71.2<tspan dx="0.9">%</tspan></text>
<path d="M435.6,159.5 H465.7 M435.6,155.5 V163.5" class="mk"/>
<text x="450.5" y="168.5" class="m1" text-anchor="middle" textLength="10.1" lengthAdjust="spacingAndGlyphs">M1</text>
<path d="M418.3,188 L418.3,186.9 L419,186.9 L419.8,186.3 L420.5,186 L421.3,186.4 L422,185.7 L422.8,184.6 L423.5,184.6 L424.3,184.4 L425,184.5 L425.8,184.1 L426.5,182.8 L427.2,181.9 L427.9,181.8 L428.6,180.9 L429.5,180.3 L430.5,178.6 L431.4,176.9 L432.1,175.3 L432.8,174 L433.5,173 L434.2,172 L435.1,169.9 L436,167.6 L436.8,165.1 L437.5,162.5 L438.8,162.1 L439.6,163.2 L440.3,163.1 L441.6,167 L442.6,169.9 L443.5,173.1 L444.4,176.6 L445.4,180.3 L446.7,185.1 L447.4,186.4 L448.2,187.7 L448.2,188 Z" fill="#3f3f3f" stroke="#2a2a2a" stroke-width="0.5" stroke-linejoin="round"/>
<text x="488.6" y="155" class="pct" text-anchor="start">89<tspan dx="0.9">%</tspan></text>
<path d="M483,159.5 H513.9 M483,155.5 V163.5" class="mk"/>
<text x="497.9" y="168.5" class="m1" text-anchor="middle" textLength="10.1" lengthAdjust="spacingAndGlyphs">M1</text>
<path d="M465.7,188 L465.7,186.9 L466.4,186.7 L467.2,187.1 L467.9,186.4 L468.7,186.8 L469.4,186.5 L470.2,186.8 L470.9,186.6 L471.7,185.8 L472.4,185.3 L473.2,186.5 L473.9,185.4 L474.6,185.9 L475.4,185 L476.1,184.7 L476.9,185.5 L477.6,185.3 L478.5,184.2 L479.5,184.3 L480.4,183.9 L481.1,182.3 L481.8,181.7 L482.5,181.1 L483.2,180.4 L484,177.2 L484.7,176.2 L485.5,173.5 L486.4,170 L487.3,165.9 L488.1,162.8 L488.8,160.8 L489.8,158.5 L490.7,156.9 L491.4,158.1 L492.2,159.8 L493.5,163.7 L494.4,173.8 L495.4,182.5 L496.3,187.7 L497.1,188 L497.8,188 L497.8,188 Z" fill="#3f3f3f" stroke="#2a2a2a" stroke-width="0.5" stroke-linejoin="round"/>
<line x1="275.3" y1="17" x2="513.9" y2="17" class="gl"/>
<line x1="275.3" y1="59" x2="513.9" y2="59" class="gl"/>
<line x1="275.3" y1="102.4" x2="513.9" y2="102.4" class="gl"/>
<line x1="275.3" y1="145.5" x2="513.9" y2="145.5" class="gl"/>
<line x1="275.3" y1="188" x2="513.9" y2="188" class="gl"/>
<line x1="275.3" y1="17" x2="275.3" y2="188" class="gl"/>
<line x1="323.8" y1="17" x2="323.8" y2="188" class="gl"/>
<line x1="371.3" y1="17" x2="371.3" y2="188" class="gl"/>
<line x1="418.3" y1="17" x2="418.3" y2="188" class="gl"/>
<line x1="465.7" y1="17" x2="465.7" y2="188" class="gl"/>
<line x1="513.9" y1="17" x2="513.9" y2="188" class="gl"/>
<text x="98.8" y="235.7" class="pct pctc" text-anchor="end">11.4<tspan dx="0.9">%</tspan></text>
<path d="M68.1,236.8 H101.8 M68.1,232.8 V240.8" class="mk"/>
<text x="96.8" y="248.7" class="m1" text-anchor="end" textLength="10.1" lengthAdjust="spacingAndGlyphs">M1</text>
<path d="M52.9,265.1 L52.9,262.5 L54.2,255.4 L55,251.4 L55.8,249.6 L56.5,247.8 L57.3,245.9 L58.7,242.7 L59.6,246.5 L60.4,247.3 L61.2,248.6 L62.5,250.8 L63.8,253.7 L64.6,255.3 L65.4,255.2 L66.3,256.5 L67.3,258.3 L68.2,257 L69.2,258.1 L70.2,257.9 L71.2,259.2 L71.9,259 L72.7,259.8 L73.4,260.4 L74.1,259.6 L74.8,260.8 L75.5,260.3 L76.2,261.6 L76.9,261.6 L77.6,262.3 L78.3,261.6 L79.1,263.2 L79.8,263.6 L80.5,263.4 L81.2,263.7 L82,263.7 L82.7,264.3 L83.4,264.8 L84.2,264.8 L84.9,265 L85.6,264.8 L85.6,265.1 Z" fill="#3f3f3f" stroke="#2a2a2a" stroke-width="0.5" stroke-linejoin="round"/>
<text x="148" y="235.7" class="pct pctc" text-anchor="end">42<tspan dx="0.9">%</tspan></text>
<path d="M117,236.8 H151 M117,232.8 V240.8" class="mk"/>
<text x="146" y="248.7" class="m1" text-anchor="end" textLength="10.1" lengthAdjust="spacingAndGlyphs">M1</text>
<path d="M101.8,265.1 L101.8,263.4 L102.5,263.4 L103.2,262.4 L103.9,262.2 L104.6,262.1 L105.3,262.1 L106,261.3 L106.7,260.4 L107.4,259.7 L108.1,259.2 L108.8,257.7 L109.5,257.3 L110.3,255.3 L111,255.1 L111.8,252.9 L112.5,252.8 L113.3,251.3 L114.3,249.1 L115.3,247.4 L116,244.6 L116.8,242.8 L117.5,242.2 L118.3,241.9 L119.7,245.9 L121,248 L121.8,249.9 L122.6,253.1 L123.3,255 L124.1,256.8 L125,258.5 L126,260.1 L126.8,259.6 L127.5,260.6 L128.3,261.8 L129,261.1 L129.8,262.3 L130.5,262.4 L131.2,262.9 L131.9,263.1 L132.7,263 L133.4,263 L134.1,264.1 L134.8,263.6 L135.6,264.1 L136.3,264.1 L137,264.4 L137,265.1 Z" fill="#3f3f3f" stroke="#2a2a2a" stroke-width="0.5" stroke-linejoin="round"/>
<text x="196.3" y="235.7" class="pct pctc" text-anchor="end">88.8<tspan dx="0.9">%</tspan></text>
<path d="M166.2,236.8 H199.3 M166.2,232.8 V240.8" class="mk"/>
<text x="194.3" y="248.7" class="m1" text-anchor="end" textLength="10.1" lengthAdjust="spacingAndGlyphs">M1</text>
<path d="M151,265.1 L151,264.4 L151.7,264 L152.5,264.1 L153.2,263.8 L153.9,264 L154.7,263.5 L155.4,262.9 L156.2,263.2 L157,263.2 L157.7,263.3 L158.5,262.5 L159.3,262.1 L160.1,261.4 L160.8,261 L161.6,261.5 L162.3,261.6 L163.1,261.2 L163.8,259.8 L164.6,258.8 L165.3,258.6 L166,257.3 L166.7,257.5 L167.4,256.5 L168.2,256.2 L168.9,255.2 L169.8,253.7 L170.8,251.7 L171.8,250.1 L172.7,247.8 L173.5,246.7 L174.3,243.9 L175.2,242.6 L175.9,243.2 L176.6,245.5 L177.3,248.2 L178.1,250.8 L179.5,257 L180.4,259 L181.4,261.4 L182.3,262 L183.3,263.1 L184,263.4 L184.8,264.2 L185.5,264.1 L186.2,264.2 L187,264.5 L187.7,264.2 L188.5,265 L189.2,264.5 L190,264.8 L190,265.1 Z" fill="#3f3f3f" stroke="#2a2a2a" stroke-width="0.5" stroke-linejoin="round"/>
<text x="245" y="235.7" class="pct pctc" text-anchor="end">95.8<tspan dx="0.9">%</tspan></text>
<path d="M214.5,236.8 H248 M214.5,232.8 V240.8" class="mk"/>
<text x="243" y="248.7" class="m1" text-anchor="end" textLength="10.1" lengthAdjust="spacingAndGlyphs">M1</text>
<path d="M199.3,265.1 L199.3,264.8 L200.1,264.6 L200.9,264.8 L201.6,264.4 L202.4,264.8 L203.2,264.4 L204,264.7 L204.7,264.7 L205.5,264.1 L206.2,264.2 L206.9,264.2 L207.6,264.2 L208.4,264.3 L209.1,264.3 L209.8,264.4 L210.5,263.7 L211.2,264.1 L211.9,263.7 L212.7,264 L213.4,263.8 L214.1,263.9 L214.8,263.5 L215.6,263.8 L216.3,263.2 L217,263.2 L217.7,264 L218.5,262.8 L219.2,263 L219.9,262.5 L220.6,262.8 L221.4,263.2 L222.1,262 L222.8,262.2 L223.5,261.7 L224.2,261.7 L224.9,260.1 L225.6,259.8 L226.6,258.3 L227.6,255.4 L228.6,253.6 L229.5,250.2 L230.5,249 L231.4,247.2 L232.4,245.8 L233.3,244.8 L234.3,244.9 L235.3,243.8 L236.2,244.9 L237.2,245 L238.5,248.8 L239.7,255.7 L240.5,261.6 L241.6,264.2 L242.4,264.4 L243.1,264.4 L243.9,264.8 L243.9,265.1 Z" fill="#3f3f3f" stroke="#2a2a2a" stroke-width="0.5" stroke-linejoin="round"/>
<text x="293.9" y="235.7" class="pct pctc" text-anchor="end">99.3<tspan dx="0.9">%</tspan></text>
<path d="M263.2,236.8 H296.9 M263.2,232.8 V240.8" class="mk"/>
<text x="291.9" y="248.7" class="m1" text-anchor="end" textLength="10.1" lengthAdjust="spacingAndGlyphs">M1</text>
<path d="M248,265.1 L248,264.4 L248.7,264.1 L249.5,264.4 L250.2,264.2 L251,263.8 L251.7,264 L252.5,263.7 L253.2,264 L254,264 L254.7,263.7 L255.5,264.1 L256.3,264 L257,263.8 L257.8,264 L258.6,264 L259.3,264 L260.1,263.6 L260.9,264 L261.6,263.4 L262.4,264.1 L263.2,263.3 L263.9,263.3 L264.7,262.9 L265.5,263.3 L266.2,263 L267,263.4 L267.8,263 L268.6,262.5 L269.4,263.1 L270.1,262.3 L270.9,262.7 L271.7,262.3 L272.5,260.7 L273.2,260.6 L274,259.7 L274.8,258.4 L275.5,256.3 L276.3,255 L277.1,252.6 L277.8,250.9 L278.6,249.5 L279.4,247.1 L280.3,246.4 L281.1,243.6 L282,242 L283.2,240.5 L284.3,240 L285.5,240.9 L286.4,243.7 L287.2,250.2 L288.4,257 L289.5,261.8 L290.4,263.5 L291.3,263.7 L292.1,263.9 L292.8,264.1 L293.6,264.4 L293.6,265.1 Z" fill="#3f3f3f" stroke="#2a2a2a" stroke-width="0.5" stroke-linejoin="round"/>
<line x1="52.9" y1="224.9" x2="296.9" y2="224.9" class="glc"/>
<line x1="52.9" y1="265.1" x2="296.9" y2="265.1" class="glc"/>
<line x1="52.9" y1="224.9" x2="52.9" y2="265.1" class="glc"/>
<line x1="101.8" y1="224.9" x2="101.8" y2="265.1" class="glc"/>
<line x1="151" y1="224.9" x2="151" y2="265.1" class="glc"/>
<line x1="199.3" y1="224.9" x2="199.3" y2="265.1" class="glc"/>
<line x1="248" y1="224.9" x2="248" y2="265.1" class="glc"/>
<line x1="296.9" y1="224.9" x2="296.9" y2="265.1" class="glc"/>
<text x="99.6" y="278.6" class="pct pctc" text-anchor="end">2.3<tspan dx="0.9">%</tspan></text>
<path d="M68.3,280.5 H102.6 M68.3,276.5 V284.5" class="mk"/>
<text x="97.6" y="291.6" class="m1" text-anchor="end" textLength="10.1" lengthAdjust="spacingAndGlyphs">M1</text>
<path d="M53.4,313.3 L53.4,313.2 L54.2,312.7 L55,313.2 L55.8,312.8 L56.6,309.7 L57.5,306.8 L58.4,299.2 L59.3,292.6 L60.1,285.7 L61,279.8 L61.7,275.9 L62.4,272.8 L63.2,276.7 L64,279.8 L65.3,293.6 L66.3,300.2 L67.4,306.3 L68.2,307.4 L69.1,309.7 L69.9,310.4 L70.8,312.4 L71.6,312.4 L72.3,312.8 L73.1,312.5 L73.8,312.6 L74.6,312.8 L75.4,312.5 L76.1,312.7 L76.9,313 L77.6,312.7 L78.4,312.6 L79.1,312.7 L79.8,312.9 L80.5,312.5 L81.2,312.5 L81.9,312.6 L82.6,312.8 L83.3,312.6 L84,312.7 L84.7,312.9 L85.4,312.9 L86.1,312.5 L86.8,313.2 L87.5,312.7 L88.3,312.6 L89,313 L89.7,313.1 L90.4,312.9 L91.1,313.1 L91.8,313.1 L92.5,313.2 L93.2,313.2 L93.9,312.8 L94.6,313.2 L95.3,312.8 L96,313.3 L96.7,313 L97.4,313 L97.4,313.3 Z" fill="#3f3f3f" stroke="#2a2a2a" stroke-width="0.5" stroke-linejoin="round"/>
<text x="148.6" y="278.6" class="pct pctc" text-anchor="end">4.8<tspan dx="0.9">%</tspan></text>
<path d="M117.5,280.5 H151.6 M117.5,276.5 V284.5" class="mk"/>
<text x="146.6" y="291.6" class="m1" text-anchor="end" textLength="10.1" lengthAdjust="spacingAndGlyphs">M1</text>
<path d="M102.6,313.3 L102.6,312.7 L103.6,312.3 L104.6,311 L105.3,309 L106,306 L107,300.2 L108,292.4 L109,286.9 L110.1,278.9 L111.4,275.2 L112.8,278.8 L114.1,292.4 L115.1,300 L116.2,306.6 L117,307.2 L117.8,308.1 L118.7,310.2 L119.5,310.7 L120.2,310.9 L121,310.2 L121.7,311.3 L122.4,310.6 L123.1,311.4 L123.9,311.6 L124.6,312 L125.3,310.6 L126.1,310.7 L126.8,311.4 L127.5,311.5 L128.2,310.8 L129,311.6 L129.7,311.2 L130.4,310.3 L131.1,311.1 L131.9,310.8 L132.6,310.8 L133.4,311.1 L134.2,310.6 L135,310.8 L135.8,311.1 L136.6,311.3 L137.4,310.5 L138.2,310.8 L139,311.9 L139.8,311.4 L140.6,311.9 L141.3,311.8 L142.1,312 L142.8,311.7 L143.6,311.7 L144.3,311.7 L145.1,311.8 L145.8,312.5 L146.6,312.2 L146.6,313.3 Z" fill="#3f3f3f" stroke="#2a2a2a" stroke-width="0.5" stroke-linejoin="round"/>
<text x="196.6" y="278.6" class="pct pctc" text-anchor="end">82<tspan dx="0.9">%</tspan></text>
<path d="M166.5,280.5 H199.6 M166.5,276.5 V284.5" class="mk"/>
<text x="194.6" y="291.6" class="m1" text-anchor="end" textLength="10.1" lengthAdjust="spacingAndGlyphs">M1</text>
<path d="M151.6,313.3 L151.6,312.4 L152.3,312.4 L153,312.2 L153.7,312 L154.5,312.3 L155.2,312.5 L155.9,312.4 L156.6,311.7 L157.3,312.1 L158,312.4 L158.7,312.1 L159.4,311 L160.1,311 L160.8,309.7 L161.5,309.3 L162.2,309.2 L162.9,309 L163.6,308.2 L164.6,306 L165.6,303.6 L166.9,297.4 L167.9,292.1 L169,287.8 L170.3,283.4 L171,284.7 L171.7,286.6 L172.4,287.9 L173.7,297 L175.1,304 L176.4,307.8 L177.1,308.4 L177.9,310.7 L178.6,311.5 L179.3,310.7 L180,311.2 L180.7,310.7 L181.5,311.2 L182.2,311.7 L182.9,311.8 L183.6,311.3 L184.3,311 L185.1,310.4 L185.8,309.5 L186.6,309.6 L187.6,309.3 L188.6,307.9 L189.6,308.6 L190.6,308.1 L192,309 L192.8,310.1 L193.6,311.5 L194.3,311.7 L195.1,311.8 L195.8,312 L196.6,312 L197.3,312 L198.1,312.4 L198.1,313.3 Z" fill="#3f3f3f" stroke="#2a2a2a" stroke-width="0.5" stroke-linejoin="round"/>
<text x="245.6" y="278.6" class="pct pctc" text-anchor="end">97<tspan dx="0.9">%</tspan></text>
<path d="M214.5,280.5 H248.6 M214.5,276.5 V284.5" class="mk"/>
<text x="243.6" y="291.6" class="m1" text-anchor="end" textLength="10.1" lengthAdjust="spacingAndGlyphs">M1</text>
<path d="M199.6,313.3 L199.6,312.6 L200.3,312.4 L201.1,312.1 L201.8,312.5 L202.5,312.6 L203.2,312.2 L204,312 L204.7,312.2 L205.4,312.2 L206.1,311.7 L206.9,311.8 L207.6,312 L208.3,311.5 L209,311.5 L209.7,312.3 L210.5,312.2 L211.2,311.1 L211.9,311.3 L212.6,312 L213.3,311.9 L214,311.3 L214.7,310.8 L215.5,311 L216.2,311.7 L216.9,310.9 L217.6,311.6 L218.3,311.3 L219.1,311.7 L219.8,310.8 L220.6,311.3 L221.3,311.8 L222.1,310.9 L222.8,310.6 L223.6,311.4 L224.3,311.4 L225.1,310.7 L225.8,310.9 L226.6,311.1 L227.4,311.7 L228.2,311.4 L229,311.4 L229.8,311.1 L230.5,309.8 L231.2,308.5 L232.6,301.7 L233.9,293.1 L234.6,289.1 L235.3,286.1 L236.1,284.8 L236.9,282.4 L237.8,283.9 L238.7,285.8 L240,293.1 L241.4,301.7 L242.7,308.3 L243.7,310 L244.7,311 L245.6,312.2 L246.6,312.6 L246.6,313.3 Z" fill="#3f3f3f" stroke="#2a2a2a" stroke-width="0.5" stroke-linejoin="round"/>
<text x="294.4" y="278.6" class="pct pctc" text-anchor="end">99.<tspan dx="0.9">%</tspan></text>
<path d="M263.5,280.5 H297.4 M263.5,276.5 V284.5" class="mk"/>
<text x="292.4" y="291.6" class="m1" text-anchor="end" textLength="10.1" lengthAdjust="spacingAndGlyphs">M1</text>
<path d="M248.6,313.3 L248.6,312.6 L249.3,312.8 L250,312.4 L250.8,312.6 L251.5,312.4 L252.2,312.5 L252.9,311.9 L253.7,312.4 L254.4,311.8 L255.1,311.8 L255.8,312 L256.5,312.3 L257.2,312.2 L257.9,312.1 L258.6,311.8 L259.4,312.2 L260.1,311.8 L260.8,311.5 L261.5,311.7 L262.2,312.1 L262.9,311.6 L263.6,311.5 L264.4,311.2 L265.1,312.2 L265.9,311.5 L266.6,312.2 L267.4,311.8 L268.1,311.9 L268.9,312 L269.6,311 L270.4,311.6 L271.1,311.7 L271.9,311.5 L272.6,311.6 L273.4,312.1 L274.1,311.4 L274.9,310.9 L275.6,311.2 L276.4,311 L277.1,310.9 L277.9,309.5 L278.8,307.5 L279.5,305.1 L280.2,300.6 L281.6,293.4 L282.5,284 L283.3,277.8 L284.1,280.9 L284.9,283.2 L285.8,288.1 L286.6,293 L287.4,297 L288.3,301 L289.4,305.2 L290.4,308.4 L291.4,310 L292.4,311.9 L293.1,311.5 L293.9,312.3 L294.6,312.6 L294.6,313.3 Z" fill="#3f3f3f" stroke="#2a2a2a" stroke-width="0.5" stroke-linejoin="round"/>
<line x1="53.4" y1="269.3" x2="297.4" y2="269.3" class="glc"/>
<line x1="53.4" y1="313.3" x2="297.4" y2="313.3" class="glc"/>
<line x1="53.4" y1="269.3" x2="53.4" y2="313.3" class="glc"/>
<line x1="102.6" y1="269.3" x2="102.6" y2="313.3" class="glc"/>
<line x1="151.6" y1="269.3" x2="151.6" y2="313.3" class="glc"/>
<line x1="199.6" y1="269.3" x2="199.6" y2="313.3" class="glc"/>
<line x1="248.6" y1="269.3" x2="248.6" y2="313.3" class="glc"/>
<line x1="297.4" y1="269.3" x2="297.4" y2="313.3" class="glc"/>
<text x="2.3" y="15.6" class="big">A</text>
<text x="256.5" y="15.6" class="big">B</text>
<text x="1.7" y="218.3" class="big">C</text>
<text x="320.6" y="218.3" class="big">D</text>
<text x="47.2" y="39.5" class="lab" text-anchor="end">SP53</text>
<text x="47.2" y="82.4" class="lab" text-anchor="end">Grant 519</text>
<text x="47.2" y="123.6" class="lab" text-anchor="end">MINO</text>
<text x="47.2" y="163.6" class="lab" text-anchor="end">Jeko-1</text>
<text x="69.6" y="201.8" class="lab" text-anchor="middle">0</text>
<text x="120.4" y="201.8" class="lab" text-anchor="middle">1</text>
<text x="169.2" y="201.8" class="lab" text-anchor="middle">2</text>
<text x="214.6" y="201.8" class="lab" text-anchor="middle">4</text>
<text x="221.5" y="201.8" class="lab">(µM)</text>
<text x="288.3" y="201.8" class="lab" text-anchor="middle">0</text>
<text x="338.7" y="201.8" class="lab" text-anchor="middle">6</text>
<text x="386.8" y="201.8" class="lab" text-anchor="middle">12</text>
<text x="434.4" y="201.8" class="lab" text-anchor="middle">24</text>
<text x="482.3" y="201.8" class="lab" text-anchor="middle">48</text>
<text x="497.8" y="201.8" class="lab">(h)</text>
<text x="49.3" y="249.5" class="lab" text-anchor="end">Annexin-V</text>
<text x="49.3" y="293.5" class="lab" text-anchor="end">TUNEL</text>
<text x="80" y="326.5" class="lab" text-anchor="middle">0</text>
<text x="127" y="326.5" class="lab" text-anchor="middle">1</text>
<text x="176.3" y="326.5" class="lab" text-anchor="middle">2</text>
<text x="224.3" y="326.5" class="lab" text-anchor="middle">4</text>
<text x="272" y="326.5" class="lab" text-anchor="middle">8</text>
<text x="280" y="326.5" class="lab">(µM)</text>
<path d="M365.4,319.7 V318.3 M363,318.3 H367.8" class="eb"/>
<rect x="361.8" y="319.7" width="7.2" height="15.3" fill="#333" stroke="#333" stroke-width="0.8"/>
<path d="M372.6,318.3 V316.9 M370.2,316.9 H375" class="eb"/>
<rect x="369" y="318.3" width="7.2" height="16.7" fill="#fff" stroke="#333" stroke-width="0.8"/>
<rect x="376.2" y="323.9" width="7.2" height="11.1" fill="url(#hatch)" stroke="#333" stroke-width="0.8"/>
<path d="M397.5,295.2 V291.4 M395.1,291.4 H399.9" class="eb"/>
<rect x="393.9" y="295.2" width="7.2" height="39.8" fill="#333" stroke="#333" stroke-width="0.8"/>
<path d="M404.7,299.8 V297 M402.3,297 H407.1" class="eb"/>
<rect x="401.1" y="299.8" width="7.2" height="35.2" fill="#fff" stroke="#333" stroke-width="0.8"/>
<path d="M411.9,295.6 V291.9 M409.5,291.9 H414.3" class="eb"/>
<rect x="408.3" y="295.6" width="7.2" height="39.4" fill="url(#hatch)" stroke="#333" stroke-width="0.8"/>
<path d="M429.7,275.2 V268.7 M427.3,268.7 H432.1" class="eb"/>
<rect x="426.1" y="275.2" width="7.2" height="59.8" fill="#333" stroke="#333" stroke-width="0.8"/>
<path d="M436.9,258.1 V250.7 M434.5,250.7 H439.3" class="eb"/>
<rect x="433.3" y="258.1" width="7.2" height="76.9" fill="#fff" stroke="#333" stroke-width="0.8"/>
<path d="M444.1,252.5 V245.1 M441.7,245.1 H446.5" class="eb"/>
<rect x="440.5" y="252.5" width="7.2" height="82.5" fill="url(#hatch)" stroke="#333" stroke-width="0.8"/>
<path d="M461.8,265.5 V259 M459.4,259 H464.2" class="eb"/>
<rect x="458.2" y="265.5" width="7.2" height="69.5" fill="#333" stroke="#333" stroke-width="0.8"/>
<path d="M469,246.5 V237.7 M466.6,237.7 H471.4" class="eb"/>
<rect x="465.4" y="246.5" width="7.2" height="88.5" fill="#fff" stroke="#333" stroke-width="0.8"/>
<path d="M476.2,246 V237.2 M473.8,237.2 H478.6" class="eb"/>
<rect x="472.6" y="246" width="7.2" height="89" fill="url(#hatch)" stroke="#333" stroke-width="0.8"/>
<path d="M494,252.5 V245.1 M491.6,245.1 H496.4" class="eb"/>
<rect x="490.4" y="252.5" width="7.2" height="82.5" fill="#333" stroke="#333" stroke-width="0.8"/>
<path d="M501.2,245.1 V235.8 M498.8,235.8 H503.6" class="eb"/>
<rect x="497.6" y="245.1" width="7.2" height="89.9" fill="#fff" stroke="#333" stroke-width="0.8"/>
<path d="M508.4,243.3 V234 M506,234 H510.8" class="eb"/>
<rect x="504.8" y="243.3" width="7.2" height="91.7" fill="url(#hatch)" stroke="#333" stroke-width="0.8"/>
<path d="M356.5,223.8 V335 H517.2" class="ax"/>
<path d="M354,335 H356.5" class="ax"/>
<text x="350.8" y="338" class="tk" text-anchor="end">0</text>
<path d="M354,316.5 H356.5" class="ax"/>
<text x="350.8" y="319.5" class="tk" text-anchor="end">20</text>
<path d="M354,297.9 H356.5" class="ax"/>
<text x="350.8" y="300.9" class="tk" text-anchor="end">40</text>
<path d="M354,279.4 H356.5" class="ax"/>
<text x="350.8" y="282.4" class="tk" text-anchor="end">60</text>
<path d="M354,260.9 H356.5" class="ax"/>
<text x="350.8" y="263.9" class="tk" text-anchor="end">80</text>
<path d="M354,242.3 H356.5" class="ax"/>
<text x="350.8" y="245.3" class="tk" text-anchor="end">100</text>
<path d="M354,223.8 H356.5" class="ax"/>
<text x="350.8" y="226.8" class="tk" text-anchor="end">120</text>
<path d="M356.5,335 V337.5" class="ax"/>
<path d="M388.6,335 V337.5" class="ax"/>
<path d="M420.8,335 V337.5" class="ax"/>
<path d="M452.9,335 V337.5" class="ax"/>
<path d="M485.1,335 V337.5" class="ax"/>
<path d="M517.2,335 V337.5" class="ax"/>
<text x="372.6" y="348.5" class="tk" text-anchor="middle">0</text>
<text x="404.7" y="348.5" class="tk" text-anchor="middle">1</text>
<text x="436.9" y="348.5" class="tk" text-anchor="middle">2</text>
<text x="469" y="348.5" class="tk" text-anchor="middle">4</text>
<text x="501.2" y="348.5" class="tk" text-anchor="middle">8</text>
<text x="437.5" y="366" class="dl" text-anchor="middle">Atiprimod (µM)</text>
<text transform="translate(329.8,280.6) rotate(-90)" class="yl" text-anchor="middle">% Apoptotic cells</text>
<rect x="359.5" y="224" width="35" height="36.5" fill="#fff" stroke="#111" stroke-width="1"/>
<rect x="368" y="228.3" width="4" height="4" fill="#333" stroke="#333" stroke-width="0.6"/>
<text x="374.3" y="233.1" class="lg">Pt.1</text>
<rect x="368" y="239.8" width="4" height="4" fill="#fff" stroke="#333" stroke-width="0.6"/>
<text x="374.3" y="244.6" class="lg">Pt.2</text>
<rect x="368" y="251.3" width="4" height="4" fill="url(#hatch)" stroke="#333" stroke-width="0.6"/>
<text x="374.3" y="256.1" class="lg">Pt.3</text>
</svg>
</body></html>
